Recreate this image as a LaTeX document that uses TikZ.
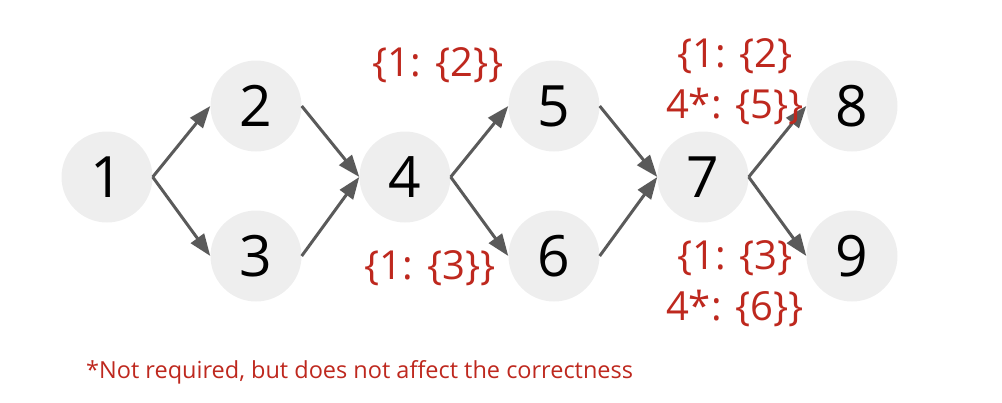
\documentclass[tikz,border=0pt]{standalone}
\usepackage{fontspec}
\setmainfont{Open Sans}
\usetikzlibrary{arrows.meta}
\definecolor{nodegray}{HTML}{EEEEEE}
\definecolor{arrowgray}{HTML}{5A5A5A}
\definecolor{labelred}{HTML}{BE281E}
\begin{document}
\begin{tikzpicture}[x=1pt,y=-1pt,
  vert/.style={circle,fill=nodegray,minimum size=91pt,inner sep=0pt,font=\fontsize{57}{60}\selectfont},
  edge/.style={draw=arrowgray,line width=3pt,-{Triangle[length=22pt,width=16pt]}},
  lbl/.style={text=labelred,align=center,inner sep=0pt,font=\fontsize{40}{51}\selectfont},
  note/.style={text=labelred,anchor=west,inner sep=0pt,font=\fontsize{23.5}{28}\selectfont}]
\useasboundingbox (0,0) rectangle (1002,402);
\node[vert] (n1) at (107,177) {1};
\node[vert] (n2) at (256,106) {2};
\node[vert] (n3) at (256,256) {3};
\node[vert] (n4) at (405,177) {4};
\node[vert] (n5) at (554,106) {5};
\node[vert] (n6) at (554,256) {6};
\node[vert] (n7) at (703,177) {7};
\node[vert] (n8) at (852,106) {8};
\node[vert] (n9) at (852,256) {9};
\foreach \a/\b in {n1/n2,n1/n3,n2/n4,n3/n4,n4/n5,n4/n6,n5/n7,n6/n7,n7/n8,n7/n9}
  \draw[edge] (\a.east) -- (\b.west);
\node[lbl] (l5) at (438,65) {\{1: \{2\}\}};
\node[lbl] (l6) at (430,268) {\{1: \{3\}\}};
\node[lbl] (l8) at (735,82) {\{1: \{2\}\\4*: \{5\}\}};
\node[lbl] (l9) at (735,284) {\{1: \{3\}\\4*: \{6\}\}};
\node[note] (fn) at (86,372) {*Not required, but does not affect the correctness};
\end{tikzpicture}
\end{document}
